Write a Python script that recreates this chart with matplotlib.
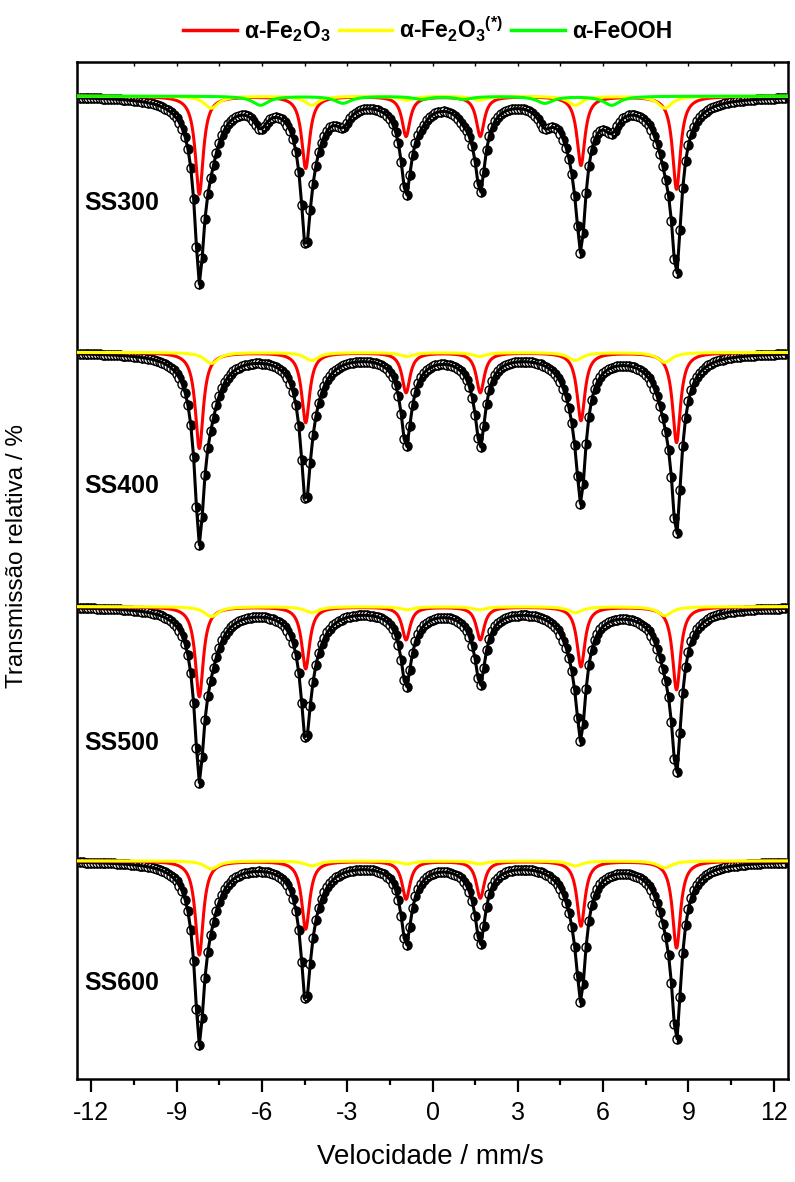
"""
Espectros Mossbauer (SS300-SS600) com ajuste de sextetos.
"""

import numpy as np
import matplotlib.pyplot as plt
from matplotlib.lines import Line2D
from matplotlib.ticker import MultipleLocator

plt.rcParams['font.family'] = ['Liberation Sans', 'DejaVu Sans']
plt.rcParams['mathtext.fontset'] = 'custom'
plt.rcParams['mathtext.rm'] = 'Liberation Sans'
plt.rcParams['mathtext.bf'] = 'Liberation Sans:bold'
plt.rcParams['mathtext.it'] = 'Liberation Sans:italic'

# amostras, de cima para baixo, e o deslocamento vertical de cada espectro
samples = ['SS300', 'SS400', 'SS500', 'SS600']
offsets = [100.0, 74.4, 49.0, 23.6]
label_y = [89.3, 61.0, 35.4, 11.4]

# posicoes das linhas (mm/s)
pos_hem = [-8.20, -4.46, -0.93, 1.68, 5.22, 8.58]       # a-Fe2O3
pos_hem2 = [-7.78, -4.25, -0.90, 1.65, 5.02, 8.17]      # a-Fe2O3 (*)
pos_goe = [-6.05, -3.15, -0.40, 1.10, 3.95, 6.30]       # a-FeOOH
pos_dist = [-8.00, -4.30, -0.85, 1.60, 5.05, 8.38]      # distribuicao (so no ajuste total)

# meia largura a meia altura (mm/s)
hw_hem, hw_hem2, hw_goe, hw_narrow, hw_dist = 0.17, 0.30, 0.35, 0.25, 0.60

# profundidades (%) por amostra
red_depth = [[9.8, 7.2, 4.0, 4.0, 6.9, 9.3],
             [9.6, 7.0, 4.0, 4.0, 6.8, 9.0],
             [9.0, 6.2, 3.3, 3.3, 6.0, 8.3],
             [9.4, 6.8, 3.8, 3.7, 6.5, 8.7]]
yellow_depth = [[1.2, 0.9, 0.4, 0.4, 0.9, 1.2],
                [1.1, 0.8, 0.4, 0.4, 0.8, 1.0],
                [1.0, 0.6, 0.3, 0.3, 0.6, 0.9],
                [0.8, 0.5, 0.3, 0.3, 0.5, 0.7]]
green_depth = [[0.9, 0.7, 0.3, 0.3, 0.7, 0.9],
               [0, 0, 0, 0, 0, 0],
               [0, 0, 0, 0, 0, 0],
               [0, 0, 0, 0, 0, 0]]
# partes do ajuste total que nao aparecem como curva propria
narrow_depth = [[4.3, 3.8, 3.2, 2.9, 4.3, 3.9],
                [5.5, 4.6, 3.3, 3.3, 4.7, 5.2],
                [4.5, 3.9, 2.7, 2.5, 4.0, 4.4],
                [5.0, 4.1, 2.6, 2.6, 4.2, 5.3]]
dist_depth = [[4.5, 3.5, 1.8, 1.8, 3.5, 4.5],
              [4.0, 3.0, 1.5, 1.5, 3.0, 4.0],
              [4.0, 3.0, 1.5, 1.5, 3.0, 4.0],
              [4.0, 3.0, 1.5, 1.5, 3.0, 4.0]]
goe_extra_depth = [[1.2, 1.0, 0.3, 0.3, 1.0, 1.2],
                   [0, 0, 0, 0, 0, 0],
                   [0, 0, 0, 0, 0, 0],
                   [0, 0, 0, 0, 0, 0]]


def sextet(v, pos, depth, hw):
    s = np.zeros_like(v)
    for p, d in zip(pos, depth):
        s += d / (1 + ((v - p) / hw) ** 2)
    return s


v_data = np.arange(-12.4, 12.45, 0.1)    # canais
v_fine = np.linspace(-12.5, 12.5, 2000)

fig = plt.figure(figsize=(7.95, 11.82), dpi=100)
ax = fig.add_axes([0.0969, 0.0871, 0.8943, 0.8604])

for i, name in enumerate(samples):
    y0 = offsets[i]

    def total(v):
        return (sextet(v, pos_hem, red_depth[i], hw_hem)
                + sextet(v, pos_hem2, yellow_depth[i], hw_hem2)
                + sextet(v, pos_goe, green_depth[i], hw_goe)
                + sextet(v, pos_goe, goe_extra_depth[i], 0.28)
                + sextet(v, pos_hem, narrow_depth[i], hw_narrow)
                + sextet(v, pos_dist, dist_depth[i], hw_dist))

    yd = y0 - total(v_data)
    ax.plot(v_data, yd, ls='none', marker='o', ms=6.5, mew=1.0, mec='black',
            mfc='black', mfcalt='white', fillstyle='right', zorder=2)
    ax.plot(v_data, yd, color='black', lw=2.2, zorder=3)
    ax.plot(v_fine, y0 - sextet(v_fine, pos_hem, red_depth[i], hw_hem),
            color='#ff0000', lw=2.2, zorder=4)
    ax.plot(v_fine, y0 - sextet(v_fine, pos_hem2, yellow_depth[i], hw_hem2),
            color='#ffff00', lw=2.2, zorder=5)
    if max(green_depth[i]) > 0:
        ax.plot(v_fine, y0 - sextet(v_fine, pos_goe, green_depth[i], hw_goe),
                color='#00ff00', lw=2.2, zorder=6)
    ax.text(-12.25, label_y[i], name, fontsize=18, fontweight='bold',
            ha='left', va='center', zorder=7)

ax.set_xlim(-12.5, 12.5)
ax.set_ylim(1.8, 103.4)
ax.set_xticks(range(-12, 13, 3))
ax.xaxis.set_minor_locator(MultipleLocator(1.5))
ax.set_yticks([])
ax.tick_params(axis='x', which='major', direction='out', length=9, width=1.6,
               labelsize=18, pad=7)
ax.tick_params(axis='x', which='minor', direction='out', length=4, width=1.6)
ax.set_xticklabels(['-12', '-9', '-6', '-3', '0', '3', '6', '9', '12'])
for s in ax.spines.values():
    s.set_linewidth(1.8)

top = ax.secondary_xaxis('top')
top.set_xticks(np.arange(-10.5, 12.5, 1.5))
top.tick_params(direction='in', length=3, width=1.0, labeltop=False)
top.set_xticklabels([])
top.spines['top'].set_visible(False)

ax.set_xlabel('Velocidade / mm/s', fontsize=20)
ax.xaxis.set_label_coords(0.497, -0.064)
ax.set_ylabel('Transmissão relativa / %', fontsize=17.5)
ax.yaxis.set_label_coords(-0.069, 0.514)

handles = [Line2D([], [], color='#ff0000', lw=2.5),
           Line2D([], [], color='#ffff00', lw=2.5),
           Line2D([], [], color='#00ff00', lw=2.5)]
labels = ['α-Fe$_\\mathbf{2}$O$_\\mathbf{3}$',
          'α-Fe$_\\mathbf{2}$O$_\\mathbf{3}{}^\\mathbf{(*)}$',
          'α-FeOOH']
fig.legend(handles, labels, loc='center', bbox_to_anchor=(0.538, 0.975),
           ncol=3, frameon=False, handlelength=2.35, handletextpad=0.3,
           columnspacing=0.35, prop={'weight': 'bold', 'size': 16.5})

fig.savefig('out.png', dpi=100)
